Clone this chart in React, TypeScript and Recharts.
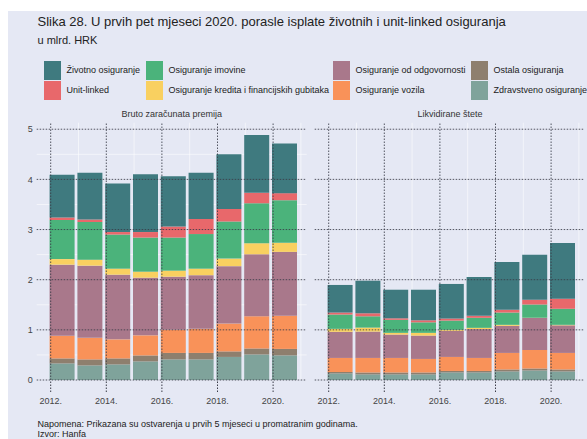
import React from "react";
import { Bar, CartesianGrid, ComposedChart, ReferenceLine, XAxis, YAxis } from "recharts";

// godine i oznake osi
const years = [2012, 2013, 2014, 2015, 2016, 2017, 2018, 2019, 2020];
const yearTicks = [2012, 2014, 2016, 2018, 2020];
const minorYears = [2013, 2015, 2017, 2019, 2021];
const valueTicks = [0, 1, 2, 3, 4, 5];
const minorValues = [0.5, 1.5, 2.5, 3.5, 4.5];

// Bruto zaračunata premija (mlrd. HRK)
const premZdravstveno = [0.33, 0.29, 0.31, 0.37, 0.41, 0.41, 0.46, 0.51, 0.49];
const premOstala = [0.1, 0.12, 0.12, 0.12, 0.13, 0.13, 0.11, 0.12, 0.13];
const premVozila = [0.45, 0.43, 0.38, 0.4, 0.46, 0.48, 0.555, 0.64, 0.66];
const premOdgovornost = [1.42, 1.44, 1.29, 1.15, 1.06, 1.07, 1.145, 1.235, 1.275];
const premKredita = [0.11, 0.12, 0.12, 0.12, 0.12, 0.13, 0.15, 0.22, 0.18];
const premImovina = [0.78, 0.75, 0.68, 0.68, 0.66, 0.69, 0.74, 0.8, 0.85];
const premUnitLinked = [0.05, 0.05, 0.05, 0.11, 0.22, 0.3, 0.25, 0.21, 0.14];
const premZivotno = [0.85, 0.93, 0.97, 1.15, 1.0, 0.92, 1.09, 1.15, 0.99];

// Likvidirane štete (mlrd. HRK)
const stZdravstveno = [0.13, 0.11, 0.11, 0.11, 0.15, 0.15, 0.17, 0.19, 0.17];
const stOstala = [0.03, 0.04, 0.04, 0.04, 0.03, 0.03, 0.04, 0.04, 0.04];
const stVozila = [0.28, 0.29, 0.29, 0.27, 0.28, 0.26, 0.33, 0.37, 0.33];
const stOdgovornost = [0.52, 0.525, 0.465, 0.465, 0.52, 0.575, 0.54, 0.635, 0.55];
const stKredita = [0.06, 0.08, 0.035, 0.055, 0.02, 0.025, 0.02, 0.005, 0.01];
const stImovina = [0.285, 0.225, 0.26, 0.21, 0.185, 0.2, 0.245, 0.265, 0.32];
const stUnitLinked = [0.04, 0.06, 0.03, 0.04, 0.04, 0.04, 0.055, 0.095, 0.2];
const stZivotno = [0.55, 0.65, 0.57, 0.61, 0.69, 0.775, 0.955, 0.895, 1.11];

// redoslijed slaganja: odozdo prema gore
const series = [
  { key: "zdravstveno", name: "Zdravstveno osiguranje", color: "#7fa39b" },
  { key: "ostala", name: "Ostala osiguranja", color: "#8e7f6e" },
  { key: "vozila", name: "Osiguranje vozila", color: "#f99259" },
  { key: "odgovornost", name: "Osiguranje od odgovornosti", color: "#a9788b" },
  { key: "kredita", name: "Osiguranje kredita i financijskih gubitaka", color: "#f9d060" },
  { key: "imovina", name: "Osiguranje imovine", color: "#4bb37b" },
  { key: "unitLinked", name: "Unit-linked", color: "#e8686b" },
  { key: "zivotno", name: "Životno osiguranje", color: "#3f7a7f" },
];

// legenda: stupci po dva reda
const legendColumns = [
  ["zivotno", "unitLinked"],
  ["imovina", "kredita"],
  ["odgovornost", "vozila"],
  ["ostala", "zdravstveno"],
];
const legendX = [44, 146, 333, 471];

const buildRows = (cols: Record<string, number[]>) =>
  years.map((year, i) => {
    const row: Record<string, number | string> = { year: String(year) };
    for (const k of Object.keys(cols)) row[k] = cols[k][i];
    return row;
  });

const premRows = buildRows({
  zdravstveno: premZdravstveno,
  ostala: premOstala,
  vozila: premVozila,
  odgovornost: premOdgovornost,
  kredita: premKredita,
  imovina: premImovina,
  unitLinked: premUnitLinked,
  zivotno: premZivotno,
});

const stRows = buildRows({
  zdravstveno: stZdravstveno,
  ostala: stOstala,
  vozila: stVozila,
  odgovornost: stOdgovornost,
  kredita: stKredita,
  imovina: stImovina,
  unitLinked: stUnitLinked,
  zivotno: stZivotno,
});

const FONT = "'Liberation Sans', Arial, sans-serif";
const TEXT = "#333";
const DOT = "#3a3c48";
const BG = "#e5e8f4";

// geometrija panela (px)
const PLOT_W = 270;
const PLOT_H = 257.3;
const YEAR_PX = 27.8;
const FIRST_TICK = 14; // pomak prve godine od lijevog ruba
const BAR_W = 25;
const BAR_SHIFT = -0.7; // lijevi rub stupca u odnosu na oznaku godine
const Y_MAX = 5.13;

const padL = FIRST_TICK + BAR_SHIFT + BAR_W / 2 - YEAR_PX / 2;
const padR = PLOT_W - padL - years.length * YEAR_PX;
const yrDomain = [years[0] - FIRST_TICK / YEAR_PX, years[0] + (PLOT_W - FIRST_TICK) / YEAR_PX];

function Panel({ title, rows, left, showY }: { title: string; rows: any[]; left: number; showY: boolean }) {
  return (
    <div style={{ position: "absolute", left, top: 100 }}>
      <div
        style={{
          position: "absolute",
          left: 36.7,
          width: PLOT_W,
          top: 9,
          textAlign: "center",
          fontSize: 9,
          color: TEXT,
          fontFamily: FONT,
        }}
      >
        {title}
      </div>
      <ComposedChart
        width={36.7 + PLOT_W + 13.3}
        height={22.7 + PLOT_H + 30}
        data={rows}
        margin={{ top: 22.7, right: 13.3, bottom: 0, left: 6.7 }}
        barGap={0}
      >
        <XAxis xAxisId="cat" dataKey="year" type="category" hide height={0} padding={{ left: padL, right: padR }} />
        <XAxis
          xAxisId="yr"
          type="number"
          dataKey="yearNum"
          domain={yrDomain}
          allowDataOverflow
          ticks={yearTicks}
          tickFormatter={(v: number) => `${v}.`}
          axisLine={false}
          tickSize={12}
          tickMargin={6}
          tickLine={{ stroke: DOT, strokeDasharray: "1.5 1.5" }}
          tick={{ fontSize: 9, fill: "#444", fontFamily: FONT }}
          height={30}
        />
        <YAxis
          type="number"
          domain={[0, Y_MAX]}
          ticks={valueTicks}
          axisLine={false}
          tickLine={false}
          tickSize={0}
          tickMargin={4}
          width={30}
          tick={showY ? { fontSize: 9, fill: "#444", fontFamily: FONT } : false}
        />
        <CartesianGrid
          xAxisId="yr"
          stroke="#ffffff"
          strokeOpacity={0.7}
          strokeWidth={0.8}
          horizontalValues={minorValues}
          verticalValues={minorYears}
        />
        {series.map((s) => (
          <Bar
            key={s.key}
            xAxisId="cat"
            dataKey={s.key}
            stackId="a"
            fill={s.color}
            barSize={BAR_W}
            isAnimationActive={false}
          />
        ))}
        {valueTicks.map((v) => (
          <ReferenceLine
            key={`h${v}`}
            xAxisId="yr"
            y={v}
            stroke={DOT}
            strokeOpacity={0.85}
            strokeDasharray="1.5 1.5"
          />
        ))}
        {yearTicks.map((v) => (
          <ReferenceLine
            key={`v${v}`}
            xAxisId="yr"
            x={v}
            stroke={DOT}
            strokeOpacity={0.85}
            strokeDasharray="1.5 1.5"
          />
        ))}
      </ComposedChart>
    </div>
  );
}

export default function App() {
  const byKey = Object.fromEntries(series.map((s) => [s.key, s]));
  return (
    <div
      style={{
        position: "absolute",
        left: 0,
        top: 0,
        width: 587,
        height: 439,
        overflow: "hidden",
        background: "#fff",
        fontFamily: FONT,
        color: TEXT,
      }}
    >
      <div style={{ position: "absolute", left: 8, top: 11, width: 579, height: 428, background: BG }} />
      <div style={{ position: "absolute", left: 37.5, top: 14, fontSize: 13, whiteSpace: "nowrap", color: "#222" }}>
        Slika 28. U prvih pet mjeseci 2020. porasle isplate životnih i unit-linked osiguranja
      </div>
      <div style={{ position: "absolute", left: 37.5, top: 34, fontSize: 11, color: "#222" }}>u mlrd. HRK</div>

      {legendColumns.map((col, ci) =>
        col.map((k, ri) => (
          <div key={k} style={{ position: "absolute", left: legendX[ci], top: 61 + ri * 20 }}>
            <div style={{ position: "absolute", left: 0, top: 0, width: 17, height: 19, background: byKey[k].color }} />
            <div
              style={{
                position: "absolute",
                left: 22.5,
                top: 4,
                fontSize: 9,
                whiteSpace: "nowrap",
                color: "#222",
              }}
            >
              {byKey[k].name}
            </div>
          </div>
        ))
      )}

      <Panel title="Bruto zaračunata premija" rows={premRows} left={0} showY />
      <Panel title="Likvidirane štete" rows={stRows} left={315 - 36.7} showY={false} />

      <div style={{ position: "absolute", left: 37.5, top: 419, fontSize: 9, lineHeight: "10px", color: "#222" }}>
        Napomena: Prikazana su ostvarenja u prvih 5 mjeseci u promatranim godinama.
        <br />
        Izvor: Hanfa
      </div>
    </div>
  );
}
